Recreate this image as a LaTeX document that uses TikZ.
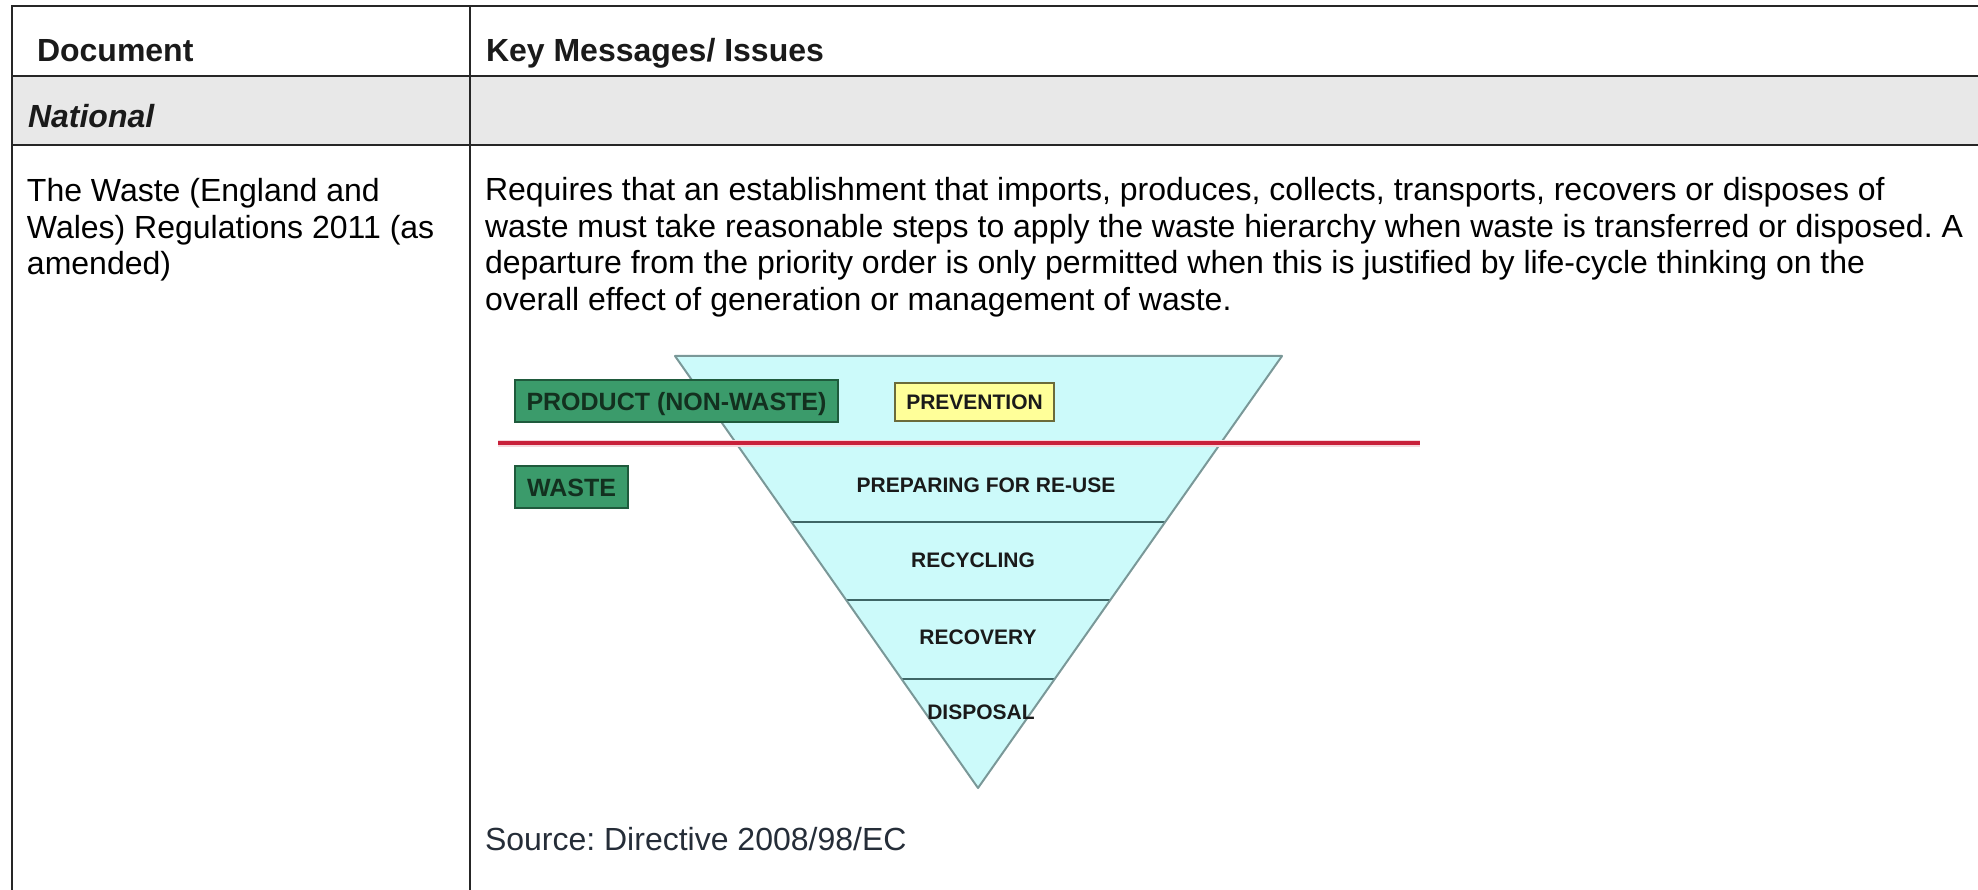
\documentclass[tikz,border=0pt]{standalone}
\usepackage{fontspec}
\setmainfont{Liberation Sans}
\usetikzlibrary{calc}
\definecolor{gridcol}{HTML}{262626}
\definecolor{greyfill}{HTML}{E8E8E8}
\definecolor{trifill}{HTML}{CCFAFA}
\definecolor{triedge}{HTML}{7A9898}
\definecolor{bandline}{HTML}{3E6666}
\definecolor{redline}{HTML}{C8203A}
\definecolor{greenfill}{HTML}{3B9B6B}
\definecolor{greenedge}{HTML}{1F5A3C}
\definecolor{greentext}{HTML}{13301F}
\definecolor{yellowfill}{HTML}{FFFF99}
\definecolor{yellowedge}{HTML}{6B6B3A}
\definecolor{labtext}{HTML}{1A1A1A}
\definecolor{srctext}{HTML}{252D38}
\frenchspacing
\begin{document}
\frenchspacing
\begin{tikzpicture}[x=1pt,y=-1pt,
  every node/.style={inner sep=0pt, outer sep=0pt},
  grid/.style={draw=gridcol, line width=2pt},
  bodytext/.style={font=\fontsize{32}{36.5}\selectfont, text=black, anchor=base west},
  hdrtext/.style={font=\fontsize{32}{36.5}\selectfont\bfseries, text=labtext, anchor=base west},
  boxlabel/.style={font=\fontsize{25}{28}\selectfont\bfseries, text=greentext, fill=greenfill, draw=greenedge, line width=1.5pt, text height=18pt, text depth=0pt},
  bandlabel/.style={font=\fontsize{21}{24}\selectfont\bfseries, text=labtext, text height=15pt, text depth=0pt}
]
\useasboundingbox (0,0) rectangle (1978,890);
% table
\fill[greyfill] (12,76) rectangle (1978,145);
\draw[grid] (12,890) -- (12,6) -- (1978,6);
\draw[grid] (12,76) -- (1978,76);
\draw[grid] (12,145) -- (1978,145);
\draw[grid] (470,6) -- (470,890);
\node[hdrtext] (hdoc) at (37,62) {Document};
\node[hdrtext] (hkey) at (486,62) {Key Messages/ Issues};
\node[hdrtext, font=\fontsize{32}{36.5}\selectfont\bfseries\itshape] (nat) at (28,128) {National};
% left column
\node[bodytext] (d1) at (27,202) {The Waste (England and};
\node[bodytext] (d2) at (27,238.5) {Wales) Regulations 2011 (as};
\node[bodytext] (d3) at (27,275) {amended)};
% right column
\node[bodytext] (k1) at (485,201) {Requires that an establishment that imports, produces, collects, transports, recovers or disposes of};
\node[bodytext] (k2) at (485,237.5) {waste must take reasonable steps to apply the waste hierarchy when waste is transferred or disposed. A};
\node[bodytext] (k3) at (485,274) {departure from the priority order is only permitted when this is justified by life-cycle thinking on the};
\node[bodytext] (k4) at (485,310.5) {overall effect of generation or management of waste.};
\node[bodytext, text=srctext] (src) at (485,850) {Source: Directive 2008/98/EC};
% pyramid
\coordinate (TL) at (675,356);
\coordinate (TR) at (1282,356);
\coordinate (AP) at (978,788);
\fill[trifill] (TL) -- (TR) -- (AP) -- cycle;
\draw[bandline, line width=1.6pt] ($(TL)!0.3843!(AP)$) -- ($(TR)!0.3843!(AP)$);
\draw[bandline, line width=1.6pt] ($(TL)!0.5648!(AP)$) -- ($(TR)!0.5648!(AP)$);
\draw[bandline, line width=1.6pt] ($(TL)!0.7477!(AP)$) -- ($(TR)!0.7477!(AP)$);
\draw[triedge, line width=2pt, line join=round] (TL) -- (TR) -- (AP) -- cycle;
% red divider
\coordinate (RL) at (498,443);
\coordinate (RR) at (1420,443);
\draw[redline!18, line width=7pt] (RL) -- (RR);
\draw[redline, line width=3.5pt] (RL) -- (RR);
% boxes
\node[boxlabel, minimum width=323pt, minimum height=42pt] (prod) at (676.5,401) {PRODUCT (NON-WASTE)};
\node[boxlabel, minimum width=113pt, minimum height=42pt] (waste) at (571.5,487) {WASTE};
\node[bandlabel, fill=yellowfill, draw=yellowedge, line width=1.5pt, minimum width=159pt, minimum height=38pt] (prev) at (974.5,402) {PREVENTION};
% band labels
\node[bandlabel] (prep) at (986,485) {PREPARING FOR RE-USE};
\node[bandlabel] (recy) at (973,560) {RECYCLING};
\node[bandlabel] (reco) at (978,637) {RECOVERY};
\node[bandlabel] (disp) at (981,712) {DISPOSAL};
\end{tikzpicture}
\end{document}
